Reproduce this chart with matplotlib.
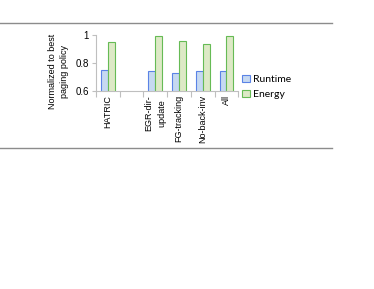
import numpy as np
import matplotlib.pyplot as plt
from matplotlib.lines import Line2D

# datos
categorias = ['HATRIC', '', 'EGR-dir-\nupdate', 'FG-tracking', 'No-back-inv', 'All']
runtime = [0.746, np.nan, 0.745, 0.724, 0.745, 0.740]
energy = [0.947, np.nan, 0.993, 0.955, 0.934, 0.992]

fig = plt.figure(figsize=(3.74, 2.89), dpi=100)
ax = fig.add_axes([0.257, 0.686, 0.380, 0.193])

x = np.arange(len(categorias))
w = 0.29
ax.bar(x - w/2, runtime, w, bottom=0, color='#c6d9f1', edgecolor='#5b83e6',
       linewidth=0.8, label='Runtime')
ax.bar(x + w/2, energy, w, bottom=0, color='#dde9c6', edgecolor='#66bb55',
       linewidth=0.8, label='Energy')

ax.set_xlim(-0.5, len(categorias) - 0.5)
ax.set_ylim(0.6, 1.0)
ax.set_yticks([0.6, 0.8, 1.0])
ax.set_yticklabels(['0.6', '0.8', '1'], fontsize=7, family='Liberation Sans')
ax.set_xticks(x)
ax.set_xticklabels(categorias, rotation=90, fontsize=6.5, family='Liberation Sans',
                   va='top', linespacing=1.7)
ax.tick_params(axis='x', length=0, pad=3)
# marcas entre categorias
ax.set_xticks(np.arange(len(categorias) + 1) - 0.5, minor=True)
ax.tick_params(axis='x', which='minor', length=4, color='#bfbfbf', width=0.8)
ax.tick_params(axis='y', length=3, color='#bfbfbf', width=0.8, pad=2)

for s in ['top', 'right']:
    ax.spines[s].set_visible(False)
ax.spines['left'].set_color('#bfbfbf')
ax.spines['bottom'].set_color('#bfbfbf')
ax.spines['left'].set_linewidth(0.8)
ax.spines['bottom'].set_linewidth(0.8)

ax.set_ylabel('Normalized to best\npaging policy', fontsize=6.5,
              family='Liberation Sans', linespacing=1.5, va='center')
ax.yaxis.set_label_coords(-0.265, 0.34)

ax.legend(loc='upper left', bbox_to_anchor=(1.0, 0.36), frameon=False,
          handlelength=0.7, handleheight=0.7, handletextpad=0.3,
          labelspacing=0.55, borderaxespad=0, prop={'family': 'Lato', 'size': 7.5})

# lineas horizontales del marco
fig.add_artist(Line2D([0, 332/374], [1 - 23.3/289, 1 - 23.3/289], color='#8c8c8c', lw=1))
fig.add_artist(Line2D([0, 332/374], [1 - 147.7/289, 1 - 147.7/289], color='#8c8c8c', lw=1))

fig.savefig('out.png', dpi=100)
